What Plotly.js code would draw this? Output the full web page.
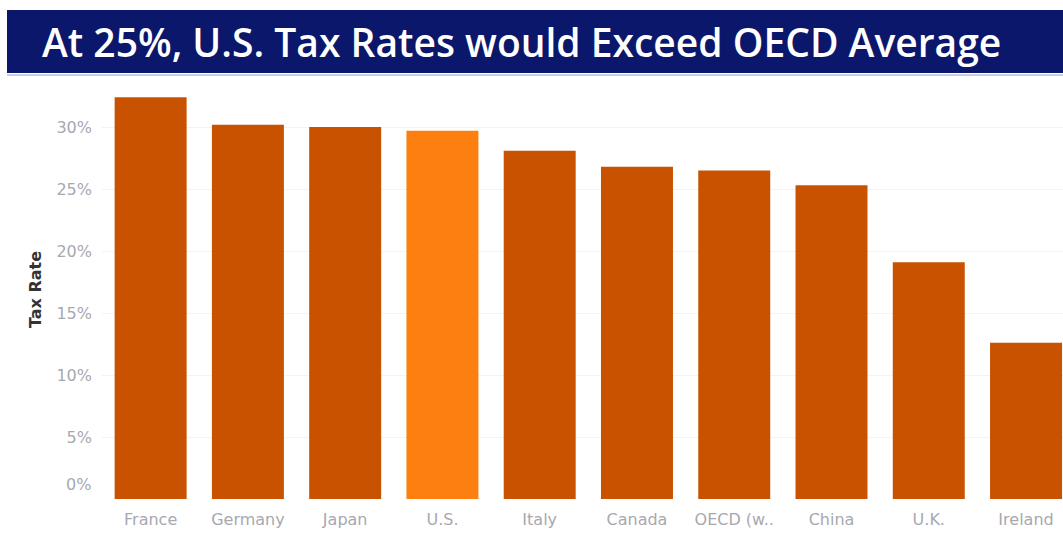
<!DOCTYPE html>
<html>
<head>
<meta charset="utf-8">
<script src="https://cdn.plot.ly/plotly-3.0.1.min.js"></script>
<style>
html,body{margin:0;padding:0;background:#fff;}
#chart{width:1063px;height:533px;}
</style>
</head>
<body>
<div id="chart"></div>
<script>
const countries = ["France","Germany","Japan","U.S.","Italy","Canada","OECD (w..","China","U.K.","Ireland"];
const taxRates = [32.4, 30.2, 30.0, 29.7, 28.1, 26.8, 26.5, 25.3, 19.1, 12.6];
const highlight = "U.S.";
const yTicks = [0, 5, 10, 15, 20, 25, 30];
const yTickText = ["0%", "5%", "10%", "15%", "20%", "25%", "30%"];
const titleText = "At 25%, U.S. Tax Rates would Exceed OECD Average";

const colors = countries.map(c => c === highlight ? "#fd7f0f" : "#c85200");

const W = 1063, H = 533;
const mL = 102, mR = 0, mT = 80, mB = 34;
const plotW = W - mL - mR, plotH = H - mT - mB;
const tickFont = {size: 16, color: "#a8a8b0", family: "DejaVu Sans, sans-serif"};

const trace = {
  type: "bar",
  x: countries,
  y: taxRates,
  marker: {color: colors, line: {width: 0}},
  width: 0.74,
  hoverinfo: "x+y"
};

const layout = {
  width: W, height: H,
  margin: {l: mL, r: mR, t: mT, b: mB},
  paper_bgcolor: "#ffffff",
  plot_bgcolor: "#ffffff",
  showlegend: false,
  font: {family: "DejaVu Sans, sans-serif"},
  xaxis: {
    type: "category",
    range: [-0.5, 9.38],
    showgrid: false, zeroline: false, showline: false,
    ticks: "",
    ticklabelstandoff: 9,
    tickfont: tickFont,
    fixedrange: true
  },
  yaxis: {
    range: [0, 33.8],
    tickvals: yTicks.slice(1),
    ticktext: yTickText.slice(1),
    showgrid: true, gridcolor: "#f3f3f3", gridwidth: 1,
    zeroline: false, showline: false, ticks: "",
    ticklabelstandoff: 9,
    tickfont: tickFont,
    title: {text: "<b>Tax Rate</b>", font: {size: 16, color: "#333333", family: "DejaVu Sans, sans-serif"}, standoff: 10},
    fixedrange: true
  },
  shapes: [
    {type: "rect", xref: "paper", yref: "paper",
     x0: (7 - mL) / plotW, x1: 1.0,
     y0: (H - mB - 73) / plotH, y1: (H - mB - 10) / plotH,
     fillcolor: "#0b176b", line: {width: 0}, layer: "above"},
    {type: "line", xref: "paper", yref: "paper",
     x0: (7 - mL) / plotW, x1: 1.0,
     y0: (H - mB - 75) / plotH, y1: (H - mB - 75) / plotH,
     line: {color: "#c9cde0", width: 2}, layer: "above"}
  ],
  annotations: [
    {xref: "paper", yref: "paper",
     x: (521 - mL) / plotW, y: (H - mB - 42) / plotH,
     xanchor: "center", yanchor: "middle",
     text: titleText, showarrow: false,
     font: {size: 39, color: "#ffffff", family: "Open Sans, sans-serif", weight: 600}},
    {xref: "paper", yref: "y",
     x: 0, y: 0, xanchor: "right", yanchor: "middle",
     xshift: -9, yshift: 15,
     text: yTickText[0], showarrow: false,
     font: tickFont}
  ]
};

Plotly.newPlot("chart", [trace], layout, {displayModeBar: false, staticPlot: true});
</script>
</body>
</html>
